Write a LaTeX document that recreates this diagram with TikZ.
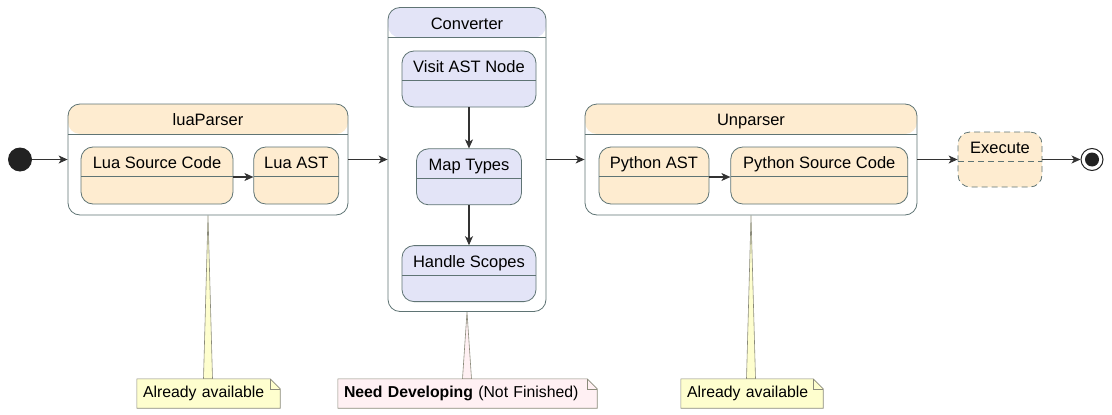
\documentclass[tikz,border=0pt]{standalone}
\usepackage{fontspec}
\setmainfont{Liberation Sans}
\usetikzlibrary{arrows.meta,backgrounds,calc,positioning}
\definecolor{stateborder}{HTML}{5F7474}
\definecolor{beige}{HTML}{FEECD0}
\definecolor{lavender}{HTML}{E3E4F7}
\definecolor{noteyellow}{HTML}{FEFECE}
\definecolor{notepink}{HTML}{FFF0F3}
\definecolor{noteborder}{HTML}{8A8A7A}
\definecolor{dotfill}{HTML}{222222}
\tikzset{>={Stealth[length=9pt,width=8pt,inset=2.5pt]}}
\tikzset{
  box/.style={draw=stateborder, line width=0.8pt, rounded corners=12pt, inner sep=0pt},
  divider/.style={path picture={
    \draw[stateborder, line width=0.8pt, #1]
      ([yshift=-29.5pt]path picture bounding box.north west) --
      ([yshift=-29.5pt]path picture bounding box.north east);}},
  state/.style={box, fill=#1, minimum height=57pt, divider={}},
  container/.style={box, fill=white, path picture={
    \fill[#1] (path picture bounding box.north west) rectangle
      ([yshift=-30pt]path picture bounding box.north east);
    \draw[stateborder, line width=0.8pt]
      ([yshift=-30pt]path picture bounding box.north west) --
      ([yshift=-30pt]path picture bounding box.north east);}},
  title/.style={anchor=base, yshift=-22pt},
  flow/.style={->, draw=black!80, line width=1.1pt},
  note/.style={inner xsep=6pt, inner ysep=0pt, minimum height=29pt, align=left,
    font=\fontsize{15.8}{18}\selectfont},
  pointer/.style={draw=noteborder, line width=0.6pt}
}

\begin{document}
\begin{tikzpicture}[x=1pt, y=-1pt, every node/.style={font=\fontsize{16.5}{19}\selectfont}]
\useasboundingbox (0,0) rectangle (1112,415);

% start and end
\node[circle, fill=dotfill, minimum size=24pt, inner sep=0pt] (start) at (20,159.5) {};
\node[circle, draw=dotfill, fill=white, line width=1pt, minimum size=22pt, inner sep=0pt] (stop) at (1092,159.5) {};
\node[circle, fill=dotfill, minimum size=14pt, inner sep=0pt] (stopdot) at (stop) {};

% luaParser
\node[container=beige, minimum width=280pt, minimum height=111pt,
  label={[title]north:luaParser}] (luaparser) at (208,159.5) {};
\node[state=beige, minimum width=152pt, label={[title]north:Lua Source Code}] (luasrc) at (157,175.5) {};
\node[state=beige, minimum width=85pt, right=20pt of luasrc,
  label={[title]north:Lua AST}] (luaast) {};

% Converter
\node[container=lavender, minimum width=158pt, minimum height=304pt,
  label={[title]north:Converter}] (converter) at (467,159.5) {};
\node[state=lavender, minimum width=134pt, minimum height=56pt,
  label={[title]north:Visit AST Node}] (visit) at (469,79) {};
\node[state=lavender, minimum width=105pt, minimum height=56pt, below=41pt of visit,
  label={[title]north:Map Types}] (maptypes) {};
\node[state=lavender, minimum width=134pt, minimum height=56pt, below=40pt of maptypes,
  label={[title]north:Handle Scopes}] (scopes) {};

% Unparser
\node[container=beige, minimum width=332pt, minimum height=111pt,
  label={[title]north:Unparser}] (unparser) at (751,159.5) {};
\node[state=beige, minimum width=110pt, label={[title]north:Python AST}] (pyast) at (654,175.5) {};
\node[state=beige, minimum width=177pt, right=21pt of pyast,
  label={[title]north:Python Source Code}] (pysrc) {};

% Execute
\node[box, fill=beige, dash pattern=on 6pt off 4pt, minimum width=84pt, minimum height=55pt,
  divider={dash pattern=on 6pt off 4pt}, label={[title]north:Execute}] (execute) at (1000,159.5) {};

% transitions
\draw[flow] (start) -- (luaparser.west);
\draw[flow] ([yshift=-1.5pt]luasrc.east) -- ([yshift=-1.5pt]luaast.west);
\draw[flow] (luaparser.east) -- (converter.west);
\draw[flow] (visit.south) -- (maptypes.north);
\draw[flow] (maptypes.south) -- (scopes.north);
\draw[flow] (converter.east) -- (unparser.west);
\draw[flow] ([yshift=-1.5pt]pyast.east) -- ([yshift=-1.5pt]pysrc.west);
\draw[flow] (unparser.east) -- (execute.west);
\draw[flow] (execute.east) -- (stop.west);

% notes
\node[note, text width=131pt] (note1) at (208.5,393.5) {Already available};
\node[note, text width=247pt] (note2) at (467.5,393.5) {\textbf{Need Developing} (Not Finished)};
\node[note, text width=130pt] (note3) at (752,393.5) {Already available};

\begin{scope}[on background layer]
\foreach \src/\n/\c in {luaparser/note1/noteyellow, converter/note2/notepink, unparser/note3/noteyellow} {
  \filldraw[pointer, fill=\c] (\src.south) -- ($(\src.south |- \n.north)+(-4.5,0)$)
    -- ($(\src.south |- \n.north)+(4.5,0)$) -- cycle;
  \filldraw[pointer, fill=\c] (\n.south west) -- (\n.north west) -- ([xshift=-10pt]\n.north east)
    -- ([yshift=-10pt]\n.north east) -- (\n.south east) -- cycle;
  \draw[pointer] ([xshift=-10pt]\n.north east) -- ([xshift=-10pt,yshift=-10pt]\n.north east)
    -- ([yshift=-10pt]\n.north east);
}
\end{scope}
\end{tikzpicture}
\end{document}
